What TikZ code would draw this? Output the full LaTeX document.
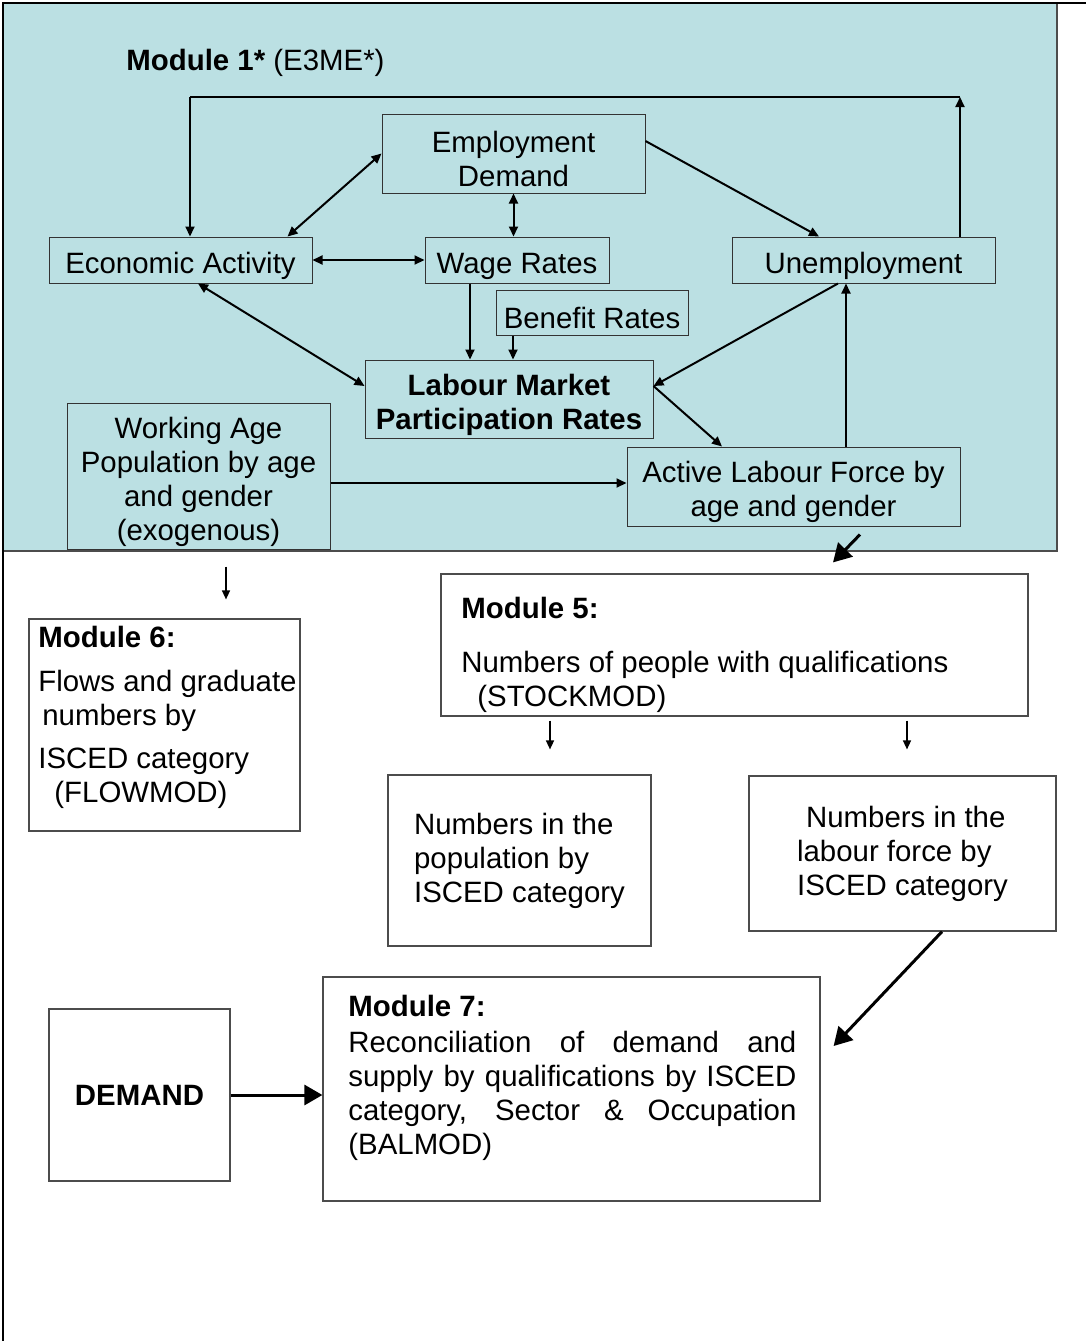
\documentclass[tikz,border=0pt]{standalone}
\usepackage{fontspec}
\setmainfont{Liberation Sans}
\usepackage{xcolor}
\usepackage{tikz}
\usetikzlibrary{arrows.meta,positioning,calc}
\definecolor{modteal}{RGB}{187,224,227}
\newcommand{\tstrut}{\rule{0pt}{16.5pt}}

\begin{document}
\begin{tikzpicture}[x=0.5pt,y=-0.5pt,font=\fontsize{14.7}{17}\selectfont,
  tbox/.style={draw=black!80, line width=0.5pt, fill=modteal, align=center, inner sep=0pt},
  wbox/.style={draw=black!70, line width=0.6pt, fill=white, inner sep=0pt},
  arr/.style={-{Triangle[length=5pt,width=4.5pt]}, line width=1pt},
  dblarr/.style={{Triangle[length=5pt,width=4.5pt]}-{Triangle[length=5pt,width=4.5pt]}, line width=1pt},
  thinarr/.style={-{Triangle[length=4.5pt,width=4pt]}, line width=0.7pt},
  bigarr/.style={-{Triangle[length=9pt,width=10pt]}, line width=1.5pt}]
\useasboundingbox (0,0) rectangle (1086,1341);
% module 1 background and page frame
\fill[modteal] (3,3) rectangle (1057,551);
\draw[black!70, line width=0.6pt] (1057,3) -- (1057,551) -- (3,551);
\draw[line width=1pt] (1086,3) -- (3,3) -- (3,1341);
\node[anchor=base west, inner sep=0pt] (title) at (126,70) {\textbf{Module 1*} (E3ME*)};

% module 1 boxes
\node[tbox, minimum width=131.5pt, minimum height=39.5pt] (empd) at (513.5,153.5) {\tstrut Employment\\Demand};
\node[tbox, minimum width=131.5pt, minimum height=23pt] (econ) at (180.5,260) {\tstrut Economic Activity};
\node[tbox, minimum width=92pt, minimum height=23pt] (wage) at (517,260) {\tstrut Wage Rates};
\node[tbox, minimum width=131.5pt, minimum height=23pt] (unemp) at (863.5,260) {\tstrut Unemployment};
\node[tbox, minimum width=96pt, minimum height=22.5pt] (bene) at (592,312.5) {\tstrut Benefit Rates};
\node[tbox, minimum width=144pt, minimum height=39pt, font=\fontsize{14.7}{17}\selectfont\bfseries] (lmpr) at (509,399) {\tstrut Labour Market\\Participation Rates};
\node[tbox, minimum width=131.5pt, minimum height=73pt] (wap) at (198.5,476) {\tstrut Working Age\\Population by age\\and gender\\(exogenous)};
\node[tbox, minimum width=166.5pt, minimum height=39.5pt] (alf) at (793.5,486.5) {\tstrut Active Labour Force by\\age and gender};

% lower modules
\node[wbox, minimum width=293.5pt, minimum height=71pt] (mod5) at (734.5,645) {};
\node[anchor=north west, align=left, inner sep=0pt] (mod5txt) at (461,597) {\textbf{Module 5:}\\[10pt]Numbers of people with qualifications\\\hspace*{8pt}(STOCKMOD)};
\node[wbox, minimum width=135.5pt, minimum height=106pt] (mod6) at (164.5,725) {};
\node[anchor=north west, align=left, inner sep=0pt] (mod6txt) at (38,626) {\textbf{Module 6:}\\[5pt]Flows and graduate\\\hspace*{2pt}numbers by\\[4.5pt]ISCED category\\\hspace*{8pt}(FLOWMOD)};
\node[wbox, align=left, minimum width=131.5pt, minimum height=85.5pt] (pop) at (519.5,860.5) {Numbers in the\\population by\\ISCED category};
\node[wbox, align=left, minimum width=153.5pt, minimum height=77.5pt] (lf) at (902.5,853.5) {\hspace*{4.5pt}Numbers in the\\labour force by\\ISCED category};
\node[wbox, minimum width=248.5pt, minimum height=112pt] (mod7) at (571.5,1089) {};
\node[anchor=north west, align=left, inner sep=0pt] (mod7txt) at (348,995) {\textbf{Module 7:}\\[1pt]\makebox[224pt][s]{Reconciliation of demand and}\\\makebox[224pt][s]{supply by qualifications by ISCED}\\\makebox[224pt][s]{category, Sector \& Occupation}\\(BALMOD)};
\node[wbox, minimum width=90.5pt, minimum height=86pt, font=\fontsize{14.7}{17}\selectfont\bfseries] (dem) at (139.5,1095) {DEMAND};

% feedback loop over the top
\coordinate (topR) at (960,97);
\coordinate (topL) at (190,97);
\draw[arr] (unemp.north -| topR) -- (topR);
\draw[line width=0.7pt] (topR) -- (topL);
\draw[arr] (topL) -- (topL |- econ.north);

% module 1 links
\draw[dblarr] ([xshift=-12.5pt]econ.north east) -- (empd.west);
\draw[dblarr] (econ.east) -- (wage.west);
\draw[dblarr] (empd.south) -- (empd.south |- wage.north);
\draw[arr] ([yshift=6.25pt]empd.east) -- ([xshift=-22.25pt]unemp.north);
\draw[dblarr] ([xshift=8.75pt]econ.south) -- ([yshift=6.5pt]lmpr.west);
\draw[arr] ([xshift=-23.5pt]wage.south) -- ([xshift=-23.5pt]wage.south |- lmpr.north);
\draw[arr] ([xshift=-39.5pt]bene.south) -- ([xshift=-39.5pt]bene.south |- lmpr.north);
\draw[arr] ([xshift=-12.75pt]unemp.south) -- ([yshift=6.5pt]lmpr.east);
\draw[arr] ([yshift=6.5pt]lmpr.east) -- ([xshift=-35.75pt]alf.north);
\draw[arr] ([xshift=26.25pt]alf.north) -- ([xshift=26.25pt]alf.north |- unemp.south);
\draw[arr] ([yshift=-3.5pt]wap.east) -- ([yshift=-3.5pt]wap.east -| alf.west);

% links to the lower modules
\draw[bigarr] ([xshift=33.25pt,yshift=-4pt]alf.south) -- ([xshift=49.25pt,yshift=5.5pt]mod5.north);
\draw[thinarr] ([xshift=13.75pt,yshift=-8.5pt]wap.south) -- ([xshift=30.75pt,yshift=9.5pt]mod6.north);
\draw[thinarr] ([xshift=-92.25pt,yshift=-2pt]mod5.south) -- ([xshift=15.25pt,yshift=12.5pt]pop.north);
\draw[thinarr] ([xshift=86.25pt,yshift=-2pt]mod5.south) -- ([xshift=2.25pt,yshift=13pt]lf.north);
\draw[bigarr] ([xshift=19.75pt]lf.south) -- ([xshift=6.5pt,yshift=21.5pt]mod7.east);
\draw[bigarr] (dem.east) -- (dem.east -| mod7.west);
\end{tikzpicture}
\end{document}
